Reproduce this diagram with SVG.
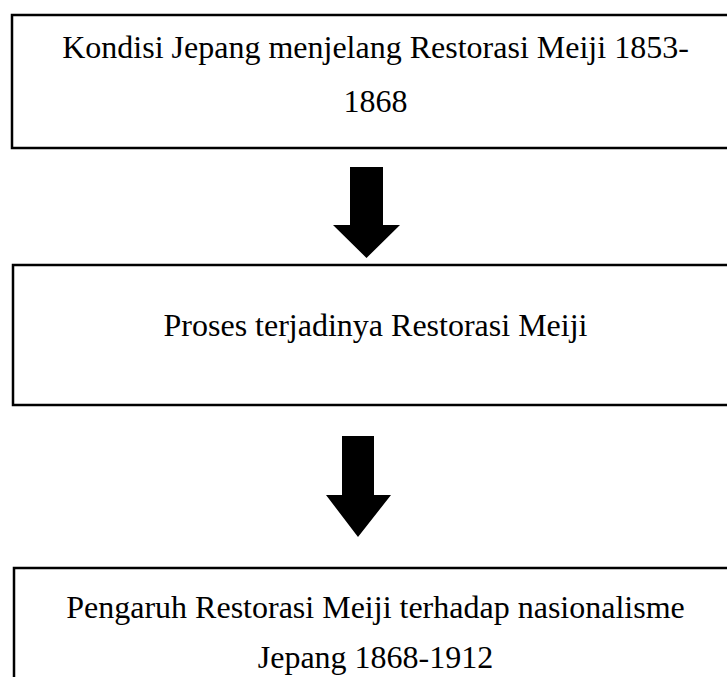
<svg xmlns="http://www.w3.org/2000/svg" width="727" height="677" viewBox="0 0 727 677">
<style>
.box{fill:#fff;stroke:#000;stroke-width:2.5}
.t{font-family:"Liberation Serif","Times New Roman",serif;font-size:32px;fill:#000;text-anchor:middle}
.arr{fill:#000}
</style>
<rect width="727" height="677" fill="#fff"/>
<g id="node1">
<rect class="box" x="12" y="15" width="740" height="133"/>
<text class="t" x="375.5" y="58">Kondisi Jepang menjelang Restorasi Meiji 1853-</text>
<text class="t" x="375.5" y="112">1868</text>
</g>
<g id="node2">
<rect class="box" x="13" y="265" width="740" height="140"/>
<text class="t" x="375.5" y="336">Proses terjadinya Restorasi Meiji</text>
</g>
<g id="node3">
<rect class="box" x="14" y="568" width="740" height="130"/>
<text class="t" x="375.5" y="618">Pengaruh Restorasi Meiji terhadap nasionalisme</text>
<text class="t" x="375.5" y="668">Jepang 1868-1912</text>
</g>
<g id="connectors">
<polygon class="arr" points="350,167 383,167 383,225 400,225 366.5,258 333,225 350,225"/>
<polygon class="arr" points="342,436 374,436 374,495 391,495 358,537 326,495 342,495"/>
</g>
</svg>
